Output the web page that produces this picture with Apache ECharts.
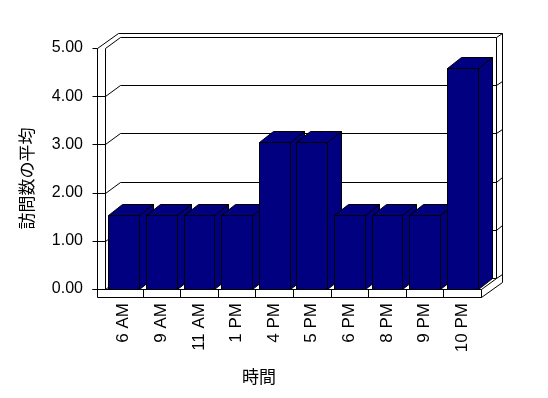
<!DOCTYPE html>
<html>
<head>
<meta charset="utf-8">
<script src="https://cdn.jsdelivr.net/npm/echarts@6/dist/echarts.min.js"></script>
<style>
html,body{margin:0;padding:0;background:#fff;}
#chart{width:548px;height:398px;}
</style>
</head>
<body>
<div id="chart"></div>
<script>
// ---- data ----
const categories = ['6 AM', '9 AM', '11 AM', '1 PM', '4 PM', '5 PM', '6 PM', '8 PM', '9 PM', '10 PM'];
const visits = [1.53, 1.53, 1.53, 1.53, 3.05, 3.05, 1.53, 1.53, 1.53, 4.58];
const yTicks = [0, 1, 2, 3, 4, 5];
const xTitle = '時間';
const yTitle = '訪問数の平均';

// ---- styling constants ----
const NAVY = '#000080';
const DEPTH = [15, -11];     // wall depth offset
const OUTER = [21, -15.5];   // back side of walls
const THICK = 8;             // left wall / floor thickness
const BAR_DEPTH = [14, -11];
const BAR_RATIO = 0.82;
const p = v => Math.round(v) + 0.5;
const lineStyle = { stroke: '#000', lineWidth: 1 };

function ln(x1, y1, x2, y2) {
  return { type: 'line', shape: { x1: p(x1), y1: p(y1), x2: p(x2), y2: p(y2) }, style: lineStyle, silent: true };
}

function renderFrame(params, api) {
  const catW = api.size([1, 0])[0];
  const xL = api.coord([0, 0])[0] - catW / 2;
  const xR = api.coord([categories.length - 1, 0])[0] + catW / 2;
  const yv = v => api.coord([0, v])[1];
  const yTop = yv(yTicks[yTicks.length - 1]);
  const y0 = yv(yTicks[0]);
  const [dx, dy] = DEPTH;
  const [ox, oy] = OUTER;
  const children = [];
  // silhouette
  children.push({
    type: 'polygon',
    shape: { points: [
      [p(xL - THICK), p(yTop)], [p(xL - THICK + ox), p(yTop + oy)], [p(xR + ox), p(yTop + oy)],
      [p(xR + ox), p(y0 + THICK + oy)], [p(xR), p(y0 + THICK)], [p(xL - THICK), p(y0 + THICK)]
    ] },
    style: { fill: '#fff', stroke: '#000', lineWidth: 1 }, silent: true
  });
  children.push(ln(xL, yTop, xL, y0));
  children.push(ln(xL, yTop, xL + dx, yTop + dy));
  children.push(ln(xL + dx, yTop + dy, xR + dx, yTop + dy));
  children.push(ln(xR + dx, yTop + dy, xR + dx, y0 + dy));
  children.push(ln(xR + dx, yTop + dy, xR + ox, yTop + oy));
  children.push(ln(xL + dx, y0 + dy, xR + dx, y0 + dy));
  children.push(ln(xL, y0, xL + dx, y0 + dy));
  children.push(ln(xL - THICK - 5, y0, xR, y0));
  children.push(ln(xR, y0, xR, y0 + THICK));
  children.push(ln(xR, y0, xR + dx, y0 + dy));
  children.push(ln(xR + dx, y0 + dy, xR + ox, y0 + oy));
  yTicks.forEach(t => {
    const y = yv(t);
    children.push(ln(xL - THICK - 5, y, xL - THICK, y));
    if (t > yTicks[0] && t < yTicks[yTicks.length - 1]) {
      children.push(ln(xL - THICK, y, xL, y));
      children.push(ln(xL, y, xL + dx, y + dy));
      children.push(ln(xL + dx, y + dy, xR + dx, y + dy));
      children.push(ln(xR + dx, y + dy, xR + ox, y + oy));
    }
  });
  return { type: 'group', children };
}

function renderBar(params, api) {
  const i = api.value(0);
  const v = api.value(1);
  const catW = api.size([1, 0])[0];
  const top = api.coord([i, v]);
  const base = api.coord([i, 0]);
  const bw = catW * BAR_RATIO;
  const xl = p(top[0] - bw / 2), xr = p(top[0] + bw / 2);
  const yt = p(top[1]), yb = p(base[1]);
  const [bx, by] = BAR_DEPTH;
  const st = { fill: NAVY, stroke: '#000', lineWidth: 1 };
  const children = [
    { type: 'polygon', shape: { points: [[xr, yt], [xr + bx, yt + by], [xr + bx, yb + by], [xr, yb]] }, style: st },
    { type: 'polygon', shape: { points: [[xl, yt], [xr, yt], [xr + bx, yt + by], [xl + bx, yt + by]] }, style: st },
    { type: 'rect', shape: { x: xl, y: yt, width: xr - xl, height: yb - yt }, style: st }
  ];
  if (i < categories.length - 1) {
    const xd = base[0] + catW / 2;
    children.push(ln(xd, base[1], xd, base[1] + THICK));
  }
  return { type: 'group', children };
}

const chart = echarts.init(document.getElementById('chart'), null, { renderer: 'canvas' });
chart.setOption({
  backgroundColor: '#fff',
  animation: false,
  grid: { left: 105, right: 67, top: 48, bottom: 109 },
  xAxis: {
    type: 'category',
    data: categories,
    boundaryGap: true,
    axisLine: { show: false },
    axisTick: { show: false },
    splitLine: { show: false },
    axisLabel: {
      rotate: 90, margin: 14, interval: 0, color: '#000',
      fontFamily: 'Liberation Sans', fontSize: 17
    },
    name: xTitle,
    nameLocation: 'middle',
    nameGap: 79,
    nameTextStyle: { color: '#000', fontFamily: 'Noto Sans CJK JP', fontSize: 17, padding: [0, 68, 0, 0] }
  },
  yAxis: {
    type: 'value',
    min: yTicks[0], max: yTicks[yTicks.length - 1], interval: 1,
    axisLine: { show: false },
    axisTick: { show: false },
    splitLine: { show: false },
    axisLabel: {
      margin: 22, color: '#000', fontFamily: 'Liberation Sans', fontSize: 16,
      formatter: v => v.toFixed(2)
    },
    name: yTitle,
    nameLocation: 'middle',
    nameRotate: 90,
    nameGap: 70,
    nameTextStyle: { color: '#000', fontFamily: 'Noto Sans CJK JP', fontSize: 17, padding: [0, 20, 0, 0] }
  },
  series: [
    { type: 'custom', renderItem: renderFrame, data: [[0, 0]], z: 1, silent: true },
    { type: 'custom', renderItem: renderBar, data: visits.map((v, i) => [i, v]), z: 2, silent: true }
  ]
});
</script>
</body>
</html>
